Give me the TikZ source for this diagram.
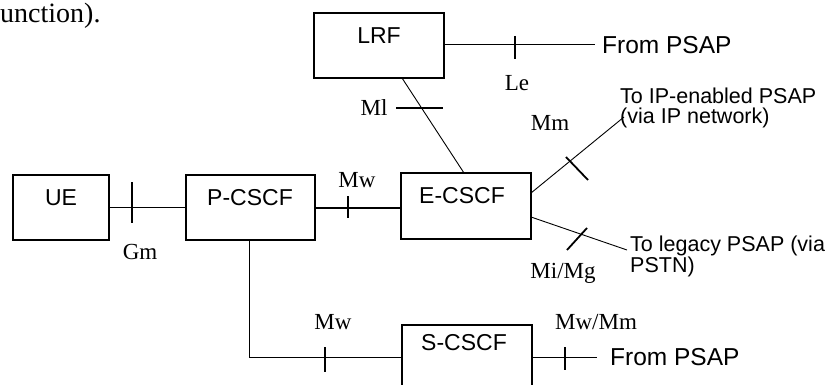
\documentclass[tikz,border=0pt]{standalone}
\usepackage{fontspec}
\setmainfont{Liberation Serif}
\newfontfamily\arialf{Liberation Sans}
\tikzset{
  box/.style={draw, line width=1.1pt, inner sep=0pt, outer sep=0pt},
  ntext/.style={font=\arialf\fontsize{23}{26}\selectfont, inner sep=0pt},
  lbl/.style={font=\fontsize{23}{26}\selectfont, inner sep=0pt},
  side/.style={font=\arialf\fontsize{21.5}{20}\selectfont, inner sep=0pt, align=left, anchor=west},
  big/.style={font=\arialf\fontsize{24.5}{26}\selectfont, inner sep=0pt, anchor=west},
  conn/.style={line width=0.9pt},
  thickconn/.style={line width=2pt},
  tick/.style={line width=1.8pt},
}
\begin{document}
\begin{tikzpicture}[x=1pt,y=-1pt]
\useasboundingbox (0,0) rectangle (835,385);
\clip (0,0) rectangle (835,385);
\fill[white] (0,0) rectangle (835,385);

% text cut from page
\node[font=\fontsize{28}{30}\selectfont, inner sep=0pt, anchor=west] (body) at (0,16) {unction).};

% boxes
\node[box, minimum width=130pt, minimum height=65pt] (lrf) at (379,45.5) {};
\node[box, minimum width=96pt, minimum height=65pt] (ue) at (61,207.5) {};
\node[box, minimum width=129pt, minimum height=65pt] (pcscf) at (250.5,207.5) {};
\node[box, minimum width=130pt, minimum height=66pt] (ecscf) at (466,206) {};
\node[box, minimum width=130pt, minimum height=64pt] (scscf) at (467,357) {};

% box texts
\node[ntext] (lrft) at (379,36) {LRF};
\node[ntext] (uet) at (61,198) {UE};
\node[ntext] (pcscft) at (250,198) {P-CSCF};
\node[ntext] (ecscft) at (462,196) {E-CSCF};
\node[ntext] (scscft) at (464,343) {S-CSCF};

% free ends
\coordinate (lrfend) at (595,44);
\coordinate (scend) at (597,357);
\coordinate (mmend) at (624,117);
\coordinate (miend) at (627,250);

% connectors
\draw[conn] ([yshift=1.5pt]lrf.east) -- (lrfend);
\draw[conn] ([xshift=23pt]lrf.south) -- ([xshift=-2pt]ecscf.north);
\draw[line width=1.5pt] (ue.east) -- (pcscf.west);
\draw[thickconn] (pcscf.east) -- (ecscf.west |- pcscf.east);
\draw[conn] ([xshift=-1.5pt]pcscf.south) |- (scscf.west);
\draw[conn] (scscf.east) -- (scend);
\draw[conn] ([yshift=13pt]ecscf.east) -- (mmend);
\draw[conn] ([yshift=-11pt]ecscf.east) -- (miend);

% ticks
\draw[tick] (515,36) -- (515,59);
\draw[tick] (396,108) -- (443,108);
\draw[tick] (132,182) -- (132,223);
\draw[tick] (348,196) -- (348,218);
\draw[tick] (325,347) -- (325,372);
\draw[tick] (565,347) -- (565,370);
\draw[tick] (566,157) -- (588,180);
\draw[tick] (567,250) -- (587,228);

% interface labels
\node[lbl] (le) at (517,83) {Le};
\node[lbl] (ml) at (374,108) {Ml};
\node[lbl] (gm) at (140,252) {Gm};
\node[lbl] (mw1) at (357,180) {Mw};
\node[lbl] (mw2) at (333,322) {Mw};
\node[lbl] (mwmm) at (596,322) {Mw/Mm};
\node[lbl] (mm) at (550,123) {Mm};
\node[lbl] (mimg) at (563,273) {Mi/Mg};

% outside texts
\node[big] (fp1) at (602,45) {From PSAP};
\node[big] (fp2) at (610,357) {From PSAP};
\node[side] (ipp) at (620,108) {To IP-enabled PSAP\\(via IP network)};
\node[side] (legp) at (630,256) {To legacy PSAP (via\\PSTN)};
\end{tikzpicture}
\end{document}
